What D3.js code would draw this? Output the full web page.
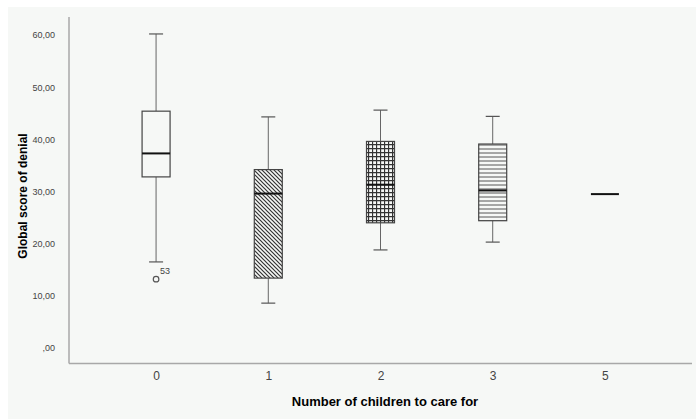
<!DOCTYPE html>
<html>
<head>
<meta charset="utf-8">
<script src="https://cdn.jsdelivr.net/npm/d3@7"></script>
<style>
  body { margin: 0; background: #fff; }
  text { font-family: "Liberation Sans", Arial, sans-serif; }
</style>
</head>
<body>
<svg id="chart" width="696" height="419"></svg>
<script>
// categories and five-number summaries
const categories = ["0", "1", "2", "3", "5"];
const whiskerLow = [16.5, 8.6, 18.8, 20.3, 29.5];
const q1 = [32.8, 13.4, 24.0, 24.4, 29.5];
const median = [37.3, 29.6, 31.3, 30.2, 29.5];
const q3 = [45.4, 34.2, 39.6, 39.1, 29.5];
const whiskerHigh = [60.2, 44.3, 45.6, 44.4, 29.5];
const fills = ["none", "diag", "grid", "horiz", "none"];
const outliers = [{ cat: "0", value: 13.2, label: "53" }];
const yTicks = [0, 10, 20, 30, 40, 50, 60];

const svg = d3.select("#chart");

// panel background
svg.append("rect")
    .attr("x", 8).attr("y", 7)
    .attr("width", 688).attr("height", 412)
    .attr("fill", "#f6f8f6");

const defs = svg.append("defs");

const diag = defs.append("pattern")
    .attr("id", "diag").attr("patternUnits", "userSpaceOnUse")
    .attr("width", 4).attr("height", 4);
diag.append("rect").attr("width", 4).attr("height", 4).attr("fill", "#f6f8f6");
diag.append("path")
    .attr("d", "M-1,-1 L5,5 M-1,3 L1,5 M3,-1 L5,1")
    .attr("stroke", "#333").attr("stroke-width", 1.2);

const grid = defs.append("pattern")
    .attr("id", "grid").attr("patternUnits", "userSpaceOnUse")
    .attr("width", 4).attr("height", 4);
grid.append("rect").attr("width", 4).attr("height", 4).attr("fill", "#f6f8f6");
grid.append("path")
    .attr("d", "M0.5,0 V4 M0,0.5 H4")
    .attr("stroke", "#333").attr("stroke-width", 1.3);

const horiz = defs.append("pattern")
    .attr("id", "horiz").attr("patternUnits", "userSpaceOnUse")
    .attr("width", 4).attr("height", 4);
horiz.append("rect").attr("width", 4).attr("height", 4).attr("fill", "#f6f8f6");
horiz.append("path")
    .attr("d", "M0,1 H4")
    .attr("stroke", "#555").attr("stroke-width", 1);

const x = d3.scalePoint()
    .domain(categories)
    .range([69, 692])
    .padding(0.776);

const y = d3.scaleLinear()
    .domain([0, 60])
    .range([348, 35]);

// axes lines
svg.append("line")
    .attr("x1", 69).attr("x2", 69)
    .attr("y1", 17).attr("y2", 363.5)
    .attr("stroke", "#a8a8a8").attr("stroke-width", 1.5);
svg.append("line")
    .attr("x1", 69).attr("x2", 692)
    .attr("y1", 363.5).attr("y2", 363.5)
    .attr("stroke", "#a8a8a8").attr("stroke-width", 1.5);

const fmt = v => (v === 0 ? "" : d3.format("d")(v)) + ",00";

const yAxis = svg.append("g")
    .attr("transform", "translate(69,0)")
    .call(d3.axisLeft(y).tickValues(yTicks).tickSize(0).tickPadding(14).tickFormat(fmt));
yAxis.select(".domain").remove();
yAxis.selectAll("text")
    .attr("fill", "#444").attr("font-size", 9)
    .style("font-family", "'Liberation Sans', Arial, sans-serif");

const xAxis = svg.append("g")
    .attr("transform", "translate(0,363.5)")
    .call(d3.axisBottom(x).tickSize(0).tickPadding(8));
xAxis.select(".domain").remove();
xAxis.selectAll("text")
    .attr("fill", "#444").attr("font-size", 12)
    .style("font-family", "'Liberation Sans', Arial, sans-serif");

// axis titles
svg.append("text")
    .attr("x", 385).attr("y", 406)
    .attr("text-anchor", "middle")
    .attr("font-size", 13).attr("font-weight", "bold")
    .text("Number of children to care for");
svg.append("text")
    .attr("transform", "translate(27,196) rotate(-90)")
    .attr("text-anchor", "middle")
    .attr("font-size", 12).attr("font-weight", "bold")
    .text("Global score of denial");

const boxW = 28, capW = 14;
const boxes = categories.map((c, i) => ({
    cat: c, lo: whiskerLow[i], q1: q1[i], med: median[i], q3: q3[i], hi: whiskerHigh[i], fill: fills[i]
}));

const g = svg.append("g");
boxes.forEach(b => {
    const cx = x(b.cat);
    if (b.hi > b.lo) {
        g.append("line")
            .attr("x1", cx).attr("x2", cx)
            .attr("y1", y(b.hi)).attr("y2", y(b.q3))
            .attr("stroke", "#666").attr("stroke-width", 1);
        g.append("line")
            .attr("x1", cx).attr("x2", cx)
            .attr("y1", y(b.q1)).attr("y2", y(b.lo))
            .attr("stroke", "#666").attr("stroke-width", 1);
        [b.hi, b.lo].forEach(v => {
            g.append("line")
                .attr("x1", cx - capW / 2).attr("x2", cx + capW / 2)
                .attr("y1", y(v)).attr("y2", y(v))
                .attr("stroke", "#555").attr("stroke-width", 1.2);
        });
        g.append("rect")
            .attr("x", cx - boxW / 2).attr("y", y(b.q3))
            .attr("width", boxW).attr("height", y(b.q1) - y(b.q3))
            .attr("fill", b.fill === "none" ? "#f6f8f6" : "url(#" + b.fill + ")")
            .attr("stroke", "#444").attr("stroke-width", 1.2);
    }
    g.append("line")
        .attr("x1", cx - boxW / 2).attr("x2", cx + boxW / 2)
        .attr("y1", y(b.med)).attr("y2", y(b.med))
        .attr("stroke", "#111").attr("stroke-width", 2);
});

outliers.forEach(o => {
    svg.append("circle")
        .attr("cx", x(o.cat)).attr("cy", y(o.value))
        .attr("r", 2.8)
        .attr("fill", "none").attr("stroke", "#555").attr("stroke-width", 1.2);
    svg.append("text")
        .attr("x", x(o.cat) + 4).attr("y", y(o.value) - 5)
        .attr("font-size", 9).attr("fill", "#444")
        .text(o.label);
});
</script>
</body>
</html>
